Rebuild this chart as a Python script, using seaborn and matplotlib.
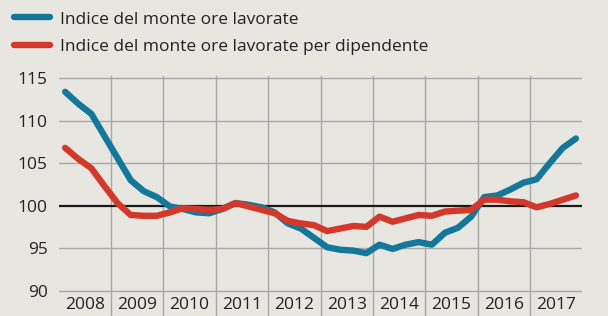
import numpy as np
import pandas as pd
import matplotlib
matplotlib.use("Agg")
import matplotlib.pyplot as plt
import matplotlib.patheffects as pe
import seaborn as sns

# quarterly data, 2008 Q1 .. 2017 Q4
years = list(range(2008, 2018))
monte_ore = [113.4, 112.0, 110.8, 108.2, 105.6, 103.0, 101.7, 101.0,
             99.9, 99.6, 99.2, 99.1, 99.6, 100.3, 100.1, 99.8,
             99.2, 97.9, 97.3, 96.2, 95.1, 94.8, 94.7, 94.4,
             95.4, 94.9, 95.4, 95.7, 95.4, 96.8, 97.4, 98.7,
             101.0, 101.2, 101.9, 102.7, 103.1, 105.0, 106.8, 107.9]
monte_ore_dip = [106.8, 105.5, 104.4, 102.3, 100.3, 98.9, 98.8, 98.8,
                 99.2, 99.7, 99.6, 99.5, 99.6, 100.3, 99.9, 99.5,
                 99.1, 98.2, 97.9, 97.7, 97.0, 97.3, 97.6, 97.5,
                 98.7, 98.1, 98.5, 98.9, 98.8, 99.3, 99.4, 99.5,
                 100.7, 100.7, 100.5, 100.4, 99.8, 100.2, 100.7, 101.2]
label_a = "Indice del monte ore lavorate"
label_b = "Indice del monte ore lavorate per dipendente"
y_ticks = [90, 95, 100, 105, 110, 115]

bg = "#e8e6e1"
blue = "#14789a"
red = "#d4382b"

t = [y + (q + 0.5) / 4 for y in years for q in range(4)]
df = pd.DataFrame({
    "t": t * 2,
    "value": monte_ore + monte_ore_dip,
    "serie": [label_a] * len(t) + [label_b] * len(t),
})

sns.set_style("white")
plt.rcParams["font.family"] = ["Open Sans", "DejaVu Sans"]

fig = plt.figure(figsize=(6.08, 3.16), dpi=100, facecolor=bg)
ax = fig.add_axes([0.0964, 0.0, 0.8616, 0.7605])
ax.set_facecolor(bg)

# grid
for yv in y_ticks:
    if yv == 100:
        continue
    ax.axhline(yv, color="#a8a8a6", lw=1.0, zorder=1)
for yr in years[1:]:
    ax.axvline(yr, color="#a8a8a6", lw=1.0, zorder=1)
ax.axhline(100, color="#1a1a1a", lw=1.6, zorder=2)

sns.lineplot(data=df, x="t", y="value", hue="serie", palette=[blue, red],
             lw=4.6, ax=ax, zorder=3, legend=True)
for line in ax.lines[-2:]:
    line.set_solid_capstyle("round")
    line.set_path_effects([pe.SimpleLineShadow(offset=(1.2, -1.5), shadow_color="#b8a890", alpha=0.45),
                           pe.Normal()])

ax.set_xlim(2008, 2018)
ax.set_ylim(87, 115.3)
ax.set_yticks(y_ticks)
ax.set_yticklabels([str(v) for v in y_ticks], fontsize=12.5, color="#222222")
ax.set_xticks([])
ax.tick_params(axis="y", length=0, pad=8)
ax.set_xlabel("")
ax.set_ylabel("")
for s in ax.spines.values():
    s.set_visible(False)

for yr in years:
    ax.text(yr + 0.5, 88.3, str(yr), ha="center", va="center",
            fontsize=12.5, color="#222222")

sns.move_legend(ax, loc="upper left", bbox_to_anchor=(0.0, 1.008),
                bbox_transform=fig.transFigure, frameon=False, title=None,
                fontsize=12.5, handlelength=2.1, handletextpad=0.55,
                labelspacing=0.65, borderpad=0.3)
leg = ax.get_legend()
for h in leg.get_lines():
    h.set_linewidth(4.6)
    h.set_solid_capstyle("round")
for txt in leg.get_texts():
    txt.set_color("#222222")

fig.savefig("out.png", dpi=100, facecolor=bg)
